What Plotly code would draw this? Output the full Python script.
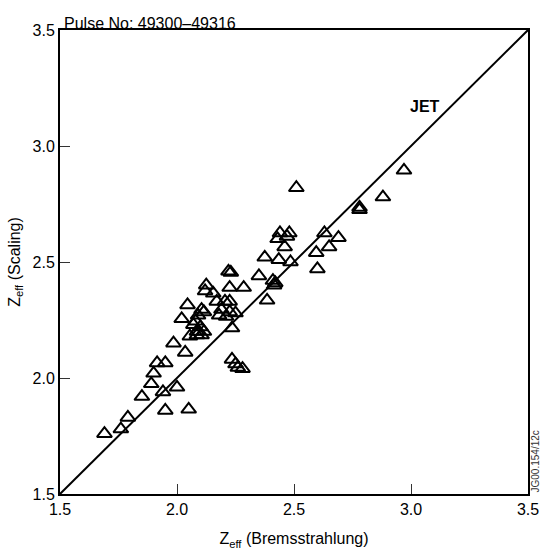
import plotly.graph_objects as go

# Zeff from bremsstrahlung (x) and from the scaling law (y), pulses 49300-49316
zeff_brems = [
    1.69, 1.76, 1.79, 1.85, 1.95, 2.05, 1.94, 2.00, 1.89, 1.90, 1.915, 1.95,
    1.985, 2.035, 2.02, 2.045,
    2.055, 2.085, 2.105, 2.07, 2.08, 2.10, 2.085, 2.115, 2.09, 2.105, 2.115,
    2.125, 2.12, 2.155, 2.17, 2.205, 2.225, 2.19, 2.225, 2.25, 2.18, 2.21,
    2.235, 2.22, 2.23, 2.225, 2.285,
    2.235, 2.25, 2.26, 2.28,
    2.35, 2.41, 2.415, 2.42, 2.385, 2.375, 2.435, 2.485, 2.46, 2.43, 2.44,
    2.47, 2.48, 2.51, 2.60, 2.595, 2.63, 2.65, 2.69, 2.78, 2.78, 2.88, 2.97,
]
zeff_scaling = [
    1.76, 1.78, 1.83, 1.92, 1.86, 1.865, 1.94, 1.96, 1.975, 2.02, 2.065, 2.065,
    2.15, 2.11, 2.255, 2.315,
    2.18, 2.185, 2.185, 2.23, 2.245, 2.22, 2.20, 2.20, 2.27, 2.295, 2.285,
    2.40, 2.375, 2.365, 2.33, 2.33, 2.33, 2.295, 2.285, 2.28, 2.27, 2.265,
    2.215, 2.46, 2.455, 2.39, 2.39,
    2.08, 2.06, 2.045, 2.04,
    2.44, 2.42, 2.40, 2.41, 2.335, 2.52, 2.51, 2.50, 2.565, 2.60, 2.625,
    2.61, 2.625, 2.82, 2.47, 2.54, 2.625, 2.565, 2.605, 2.725, 2.735, 2.78, 2.895,
]

axis_range = [1.5, 3.5]
tick_values = [1.5, 2.0, 2.5, 3.0, 3.5]
tick_labels = ["1.5", "2.0", "2.5", "3.0", "3.5"]

FONT = "Liberation Sans, Arial, Helvetica, sans-serif"

fig = go.Figure()

# line of equality
fig.add_trace(go.Scatter(
    x=axis_range, y=axis_range, mode="lines",
    line=dict(color="black", width=2), hoverinfo="skip", showlegend=False,
))

fig.add_trace(go.Scatter(
    x=zeff_brems, y=zeff_scaling, mode="markers",
    marker=dict(symbol="triangle-up-open", size=13, color="black",
                line=dict(color="black", width=2)),
    showlegend=False,
))

axis_style = dict(
    range=axis_range, tickvals=tick_values, ticktext=tick_labels,
    ticks="inside", ticklen=10, tickwidth=1, tickcolor="#333",
    showline=True, linecolor="black", linewidth=2, mirror=True,
    showgrid=False, zeroline=False, automargin=False,
    tickfont=dict(family=FONT, size=16, color="black"),
)

fig.update_layout(
    width=541, height=553,
    margin=dict(l=60, r=13, t=30, b=59),
    plot_bgcolor="white", paper_bgcolor="white",
    font=dict(family=FONT, color="black"),
    xaxis=dict(**axis_style,
               title=dict(text="Z<sub>eff</sub> (Bremsstrahlung)",
                          font=dict(family=FONT, size=16), standoff=16)),
    yaxis=dict(**axis_style,
               title=dict(text="Z<sub>eff</sub> (Scaling)",
                          font=dict(family=FONT, size=16), standoff=8)),
    annotations=[
        dict(text="Pulse No: 49300\u201349316", xref="paper", yref="paper",
             x=0.005, y=1.0, xanchor="left", yanchor="bottom", showarrow=False,
             yshift=-4, font=dict(family=FONT, size=16, color="black")),
        dict(text="<b>JET</b>", xref="x", yref="y", x=3.06, y=3.17,
             showarrow=False, font=dict(family=FONT, size=16, color="black")),
        dict(text="JG00.154/12c", xref="paper", yref="paper", x=1.017, y=0.07,
             textangle=-90, showarrow=False, xanchor="center", yanchor="middle",
             font=dict(family=FONT, size=10, color="#333")),
    ],
)

fig.write_html("out.html")
